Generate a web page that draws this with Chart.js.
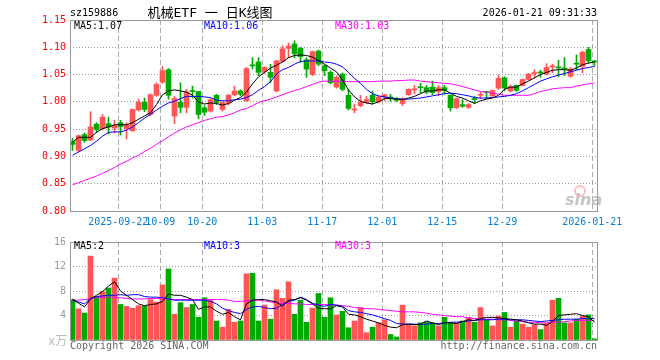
<!DOCTYPE html>
<html>
<head>
<meta charset="utf-8" />
<title>机械ETF 日K线图</title>
<script src="https://cdn.jsdelivr.net/npm/chart.js"></script>
<style>
  body { margin: 0; background: #fff; }
  #wrap { position: relative; width: 660px; height: 360px; overflow: hidden;
          font: 10px/12px "DejaVu Sans Mono", "Noto Sans CJK SC", monospace; color: #000; }
  canvas { position: absolute; left: 0; }
  .t { position: absolute; white-space: nowrap; }
</style>
</head>
<body>
<div id="wrap">
  <canvas id="kline" width="660" height="232" style="top:0"></canvas>
  <canvas id="vol" width="660" height="128" style="top:232px"></canvas>

  <div class="t" style="left:70px;top:7px">sz159886</div>
  <div class="t" style="left:210px;top:5px;font-size:13px;line-height:16px;transform:translateX(-50%)">机械ETF 一 日K线图</div>
  <div class="t" style="right:63px;top:7px">2026-01-21 09:31:33</div>

  <div class="t" style="left:74px;top:20px">MA5:1.07</div>
  <div class="t" style="left:204px;top:20px;color:#00f">MA10:1.06</div>
  <div class="t" style="left:335px;top:20px;color:#f0f">MA30:1.03</div>

  <div class="t" style="left:74px;top:240px">MA5:2</div>
  <div class="t" style="left:204px;top:240px;color:#00f">MA10:3</div>
  <div class="t" style="left:335px;top:240px;color:#f0f">MA30:3</div>

  <div class="t" style="left:48px;top:334px;font-size:12px;line-height:14px;color:#bbb">x万</div>
  <div class="t" style="left:70px;top:340px;color:#666">Copyright 2026 SINA.COM</div>
  <div class="t" style="right:63px;top:340px;color:#666">http://finance.sina.com.cn</div>

  <div class="t" style="left:574px;top:185px;width:8px;height:8px;border:2px solid rgba(255,110,110,0.45);border-radius:50%"></div>
  <div class="t" style="left:565px;top:192px;font:italic bold 16px/16px 'DejaVu Sans',sans-serif;color:rgba(150,150,150,0.55)">sina</div>
</div>

<script>
// price candles, oldest first
var openP = [0.927,0.911,0.940,0.930,0.959,0.951,0.960,0.952,0.962,0.951,
  0.947,0.985,0.999,0.977,1.012,1.036,1.059,0.974,0.999,0.990,
  1.020,1.019,0.989,0.983,1.012,0.986,0.998,1.013,1.020,1.002,
  1.067,1.073,1.056,1.054,1.020,1.074,1.098,1.106,1.098,1.077,
  1.050,1.093,1.066,1.054,1.027,1.051,1.012,0.985,0.993,0.999,
  1.012,1.000,1.009,1.009,1.005,0.997,1.013,1.022,1.027,1.026,
  1.027,1.019,1.026,1.012,0.989,0.995,0.990,1.006,1.012,1.018,
  1.011,1.025,1.044,1.020,1.030,1.030,1.041,1.052,1.054,1.051,
  1.064,1.064,1.062,1.047,1.071,1.065,1.096,1.074];
var highP = [0.933,0.939,0.943,0.982,0.962,0.977,0.972,0.966,0.966,0.962,
  0.987,1.005,1.007,1.015,1.035,1.065,1.061,1.010,1.035,1.023,
  1.029,1.019,0.993,1.006,1.014,1.000,1.014,1.029,1.022,1.063,
  1.081,1.081,1.064,1.069,1.076,1.103,1.108,1.112,1.100,1.081,
  1.093,1.095,1.068,1.057,1.048,1.053,1.023,0.996,1.012,1.010,
  1.020,1.011,1.014,1.014,1.008,1.008,1.024,1.030,1.034,1.030,
  1.038,1.030,1.030,1.013,1.007,1.004,0.997,1.010,1.018,1.019,
  1.022,1.049,1.046,1.031,1.031,1.042,1.052,1.059,1.058,1.070,
  1.069,1.076,1.081,1.063,1.086,1.093,1.100,1.076];
var lowP = [0.911,0.909,0.926,0.929,0.944,0.949,0.941,0.943,0.939,0.932,
  0.946,0.983,0.982,0.975,1.010,1.034,1.005,0.960,0.980,0.980,
  1.007,0.969,0.975,0.981,0.995,0.983,0.994,1.011,1.011,1.001,
  1.060,1.048,1.052,1.035,1.018,1.073,1.081,1.081,1.072,1.045,
  1.048,1.066,1.048,1.033,1.025,1.020,0.985,0.980,0.991,0.997,
  0.996,0.998,1.002,1.001,1.000,0.993,1.012,1.015,1.016,1.015,
  1.013,1.011,1.014,0.983,0.988,0.990,0.988,0.998,1.006,1.006,
  1.010,1.023,1.020,1.018,1.019,1.029,1.040,1.044,1.045,1.049,
  1.053,1.046,1.048,1.045,1.059,1.053,1.071,1.066];
var closeP = [0.922,0.938,0.929,0.954,0.949,0.972,0.954,0.957,0.955,0.958,
  0.986,0.999,0.986,1.013,1.032,1.057,1.012,1.006,0.990,1.018,
  1.019,0.977,0.981,1.004,0.999,0.999,1.012,1.020,1.014,1.061,
  1.066,1.054,1.063,1.045,1.075,1.097,1.102,1.088,1.083,1.060,
  1.092,1.069,1.057,1.035,1.045,1.023,0.988,0.987,0.999,1.004,
  1.000,1.009,1.013,1.007,1.003,1.005,1.023,1.024,1.026,1.018,
  1.017,1.026,1.021,0.989,1.006,0.992,0.995,1.004,1.013,1.017,
  1.021,1.043,1.026,1.028,1.021,1.041,1.051,1.054,1.053,1.063,
  1.066,1.062,1.060,1.060,1.069,1.091,1.075,1.073];

// moving average lines as drawn on the picture
var ma5 = [0.926,0.935,0.935,0.935,0.944,0.951,0.954,0.958,0.958,0.958,
  0.962,0.968,0.974,0.980,0.995,1.013,1.020,1.022,1.020,1.018,
  1.012,1.000,0.996,0.998,0.997,0.994,0.997,1.003,1.008,1.018,
  1.033,1.046,1.054,1.062,1.067,1.073,1.081,1.085,1.086,1.085,
  1.082,1.076,1.069,1.062,1.055,1.040,1.022,1.009,1.001,0.998,
  0.996,1.000,1.006,1.006,1.005,1.004,1.007,1.010,1.015,1.020,
  1.020,1.022,1.022,1.016,1.010,1.007,1.002,0.997,1.002,1.005,
  1.007,1.012,1.023,1.027,1.027,1.033,1.038,1.044,1.050,1.054,
  1.058,1.059,1.059,1.058,1.062,1.068,1.071,1.073];
var ma10 = [0.902,0.908,0.914,0.920,0.928,0.937,0.944,0.945,0.945,0.948,
  0.954,0.962,0.970,0.977,0.985,0.992,0.998,1.001,1.006,1.010,
  1.010,1.010,1.009,1.008,1.003,1.002,1.002,1.004,1.005,1.008,
  1.013,1.021,1.028,1.037,1.051,1.059,1.063,1.069,1.074,1.075,
  1.075,1.075,1.073,1.072,1.069,1.064,1.054,1.043,1.034,1.023,
  1.015,1.011,1.009,1.007,1.006,1.005,1.005,1.006,1.007,1.009,
  1.011,1.013,1.015,1.016,1.015,1.013,1.011,1.008,1.007,1.007,
  1.008,1.009,1.010,1.012,1.015,1.020,1.026,1.032,1.038,1.042,
  1.046,1.049,1.052,1.055,1.058,1.061,1.063,1.065];
var ma30 = [0.848,0.852,0.856,0.860,0.864,0.869,0.874,0.880,0.886,0.891,
  0.897,0.902,0.909,0.915,0.922,0.929,0.936,0.943,0.949,0.954,
  0.958,0.962,0.966,0.969,0.972,0.973,0.976,0.980,0.985,0.988,
  0.993,0.999,1.002,1.005,1.009,1.013,1.017,1.021,1.024,1.028,
  1.032,1.036,1.038,1.038,1.038,1.038,1.037,1.037,1.037,1.037,
  1.037,1.038,1.038,1.038,1.039,1.039,1.040,1.040,1.038,1.037,
  1.036,1.035,1.034,1.033,1.031,1.028,1.025,1.022,1.019,1.018,
  1.016,1.014,1.012,1.012,1.012,1.012,1.012,1.015,1.019,1.021,
  1.024,1.025,1.026,1.026,1.029,1.031,1.033,1.035];

// volume, in 万
var volume = [6.6,5.1,4.4,13.7,7.1,7.9,8.5,10.1,5.8,5.5,
  5.2,5.6,5.5,6.6,6.2,9.0,11.6,4.2,6.1,5.3,
  5.8,3.7,6.9,6.5,3.1,2.1,5.0,2.9,3.1,10.8,
  10.9,3.1,5.7,3.4,8.2,6.8,9.5,4.2,6.5,2.9,
  5.2,7.6,3.7,6.9,4.1,4.7,2.0,3.1,5.3,1.2,
  2.1,2.8,3.3,0.9,0.5,5.7,2.5,2.3,2.8,2.9,
  2.8,2.3,3.7,2.8,2.7,3.1,3.7,2.9,5.3,3.3,
  2.3,3.9,4.5,2.1,3.1,2.6,2.1,2.5,1.7,2.7,
  6.5,6.8,2.8,2.8,3.4,3.9,4.1,0.2];
var volMa5 = [6.7,6.0,5.4,6.7,7.3,7.9,8.8,9.5,8.0,7.3,
  6.6,5.9,5.6,5.8,5.9,6.3,7.5,7.3,7.3,7.0,
  6.6,5.0,5.4,5.4,4.7,4.2,4.5,3.8,3.3,5.9,
  6.5,6.6,6.6,6.4,6.2,5.5,6.5,6.6,6.9,6.5,
  5.9,5.2,5.1,5.1,5.6,5.4,4.2,4.1,3.8,3.4,
  3.1,2.8,2.4,2.1,2.0,2.5,2.6,2.5,2.6,3.1,
  2.8,2.5,2.8,2.8,2.7,3.0,3.3,3.2,3.5,3.7,
  3.7,3.6,3.5,3.4,3.3,3.1,2.8,2.6,2.6,2.4,
  3.0,4.0,4.1,4.2,4.3,4.0,3.8,2.9];
var volMa10 = [6.5,6.2,5.9,6.8,7.1,7.2,7.3,7.3,7.4,7.3,
  7.4,7.4,7.1,7.0,7.0,6.9,6.7,6.5,6.5,6.5,
  6.5,6.5,6.5,6.3,5.9,5.2,4.8,4.5,4.3,5.0,
  5.4,5.5,5.3,5.1,5.2,5.8,6.3,6.5,7.0,6.6,
  6.0,5.7,5.5,5.8,5.7,5.5,4.8,4.6,4.5,4.3,
  4.1,3.8,3.5,3.2,2.7,2.6,2.6,2.6,2.5,2.6,
  2.7,2.7,2.8,2.9,2.9,3.0,3.1,3.2,3.3,3.3,
  3.3,3.4,3.4,3.3,3.3,3.3,3.2,3.1,3.0,3.1,
  3.2,3.3,3.4,3.4,3.4,3.5,3.5,3.5];
var volMa30 = [6.5,6.5,6.6,6.7,6.9,7.0,7.0,7.0,6.9,6.8,
  6.7,6.7,6.7,6.8,6.8,6.7,6.7,6.6,6.6,6.6,
  6.6,6.6,6.6,6.6,6.6,6.6,6.5,6.3,6.3,6.4,
  6.5,6.5,6.4,6.2,6.1,6.0,6.0,5.9,5.9,5.8,
  5.8,5.8,5.8,5.7,5.7,5.6,5.5,5.3,5.2,5.1,
  5.1,5.0,4.9,4.8,4.7,4.6,4.6,4.6,4.5,4.4,
  4.2,4.1,4.0,3.9,3.8,3.8,3.6,3.5,3.5,3.4,
  3.4,3.3,3.3,3.2,3.1,3.0,2.9,2.9,2.8,2.8,
  2.9,2.9,3.0,3.1,3.2,3.2,3.2,3.2];

// date ticks: candle index and label
var tickIdx = [8, 15, 22, 32, 42, 52, 62, 72, 87];
var tickLabels = ['2025-09-22', '10-09', '10-20', '11-03', '11-17', '12-01', '12-15', '12-29', '2026-01-21'];
var priceTicks = [0.80, 0.85, 0.90, 0.95, 1.00, 1.05, 1.10, 1.15];
var volTicks = [0, 4, 8, 12, 16];

// ---------------------------------------------
var UP = '#ff5555', DOWN = '#00aa00';
var GRID_SHIFT = 0.37;   // sina puts the date line a little left of the candle
Chart.defaults.font.family = '"DejaVu Sans Mono", monospace';
Chart.defaults.font.size = 10;
Chart.defaults.animation = false;

var colors = closeP.map(function (c, i) { return c >= openP[i] ? UP : DOWN; });
function pts(arr) { return arr.map(function (v, i) { return { x: i, y: v }; }); }

var frame = {
  id: 'frame',
  afterDatasetsDraw: function (chart) {
    var a = chart.chartArea, ctx = chart.ctx;
    ctx.save();
    ctx.strokeStyle = '#999';
    ctx.lineWidth = 1;
    ctx.strokeRect(a.left + 0.5, a.top + 0.5, a.right - a.left, a.bottom - a.top);
    ctx.restore();
  }
};

function xAxis(labels) {
  return {
    type: 'linear', min: -0.4167, max: 87.4167, offset: false,
    afterBuildTicks: function (s) { s.ticks = tickIdx.map(function (v) { return { value: v - GRID_SHIFT }; }); },
    ticks: { display: labels, autoSkip: false, maxRotation: 0, padding: 5, color: '#0a80d0',
             callback: function (v, i) { return tickLabels[i]; } },
    grid: { offset: false, color: '#aaa', drawTicks: false },
    border: { display: false, dash: [5, 3] },
    afterFit: function (s) { s.height = labels ? 21 : 0; }
  };
}

// non-grouped bars take the slot width, so the thickness is capped instead
function bars(data, width) {
  return { data: data, backgroundColor: colors, grouped: false, order: 2,
           barPercentage: 1, categoryPercentage: 1, maxBarThickness: width, minBarLength: 1 };
}

function line(data, color) {
  return { type: 'line', data: pts(data), borderColor: color, borderWidth: 1,
           pointRadius: 0, tension: 0, order: 1 };
}

new Chart(document.getElementById('kline'), {
  type: 'bar',
  data: {
    datasets: [
      bars(lowP.map(function (l, i) { return { x: i, y: [l, highP[i]] }; }), 1),
      bars(openP.map(function (o, i) { return { x: i, y: [o, closeP[i]] }; }), 5),
      line(ma5, '#000'),
      line(ma10, '#00f'),
      line(ma30, '#f0f')
    ]
  },
  options: {
    responsive: false,
    layout: { padding: { left: 0, right: 63, top: 20, bottom: 0 } },
    plugins: { legend: { display: false }, tooltip: { enabled: false } },
    scales: {
      x: xAxis(true),
      y: {
        type: 'linear', min: 0.80, max: 1.15,
        afterBuildTicks: function (s) { s.ticks = priceTicks.map(function (v) { return { value: v }; }); },
        ticks: { color: '#f00', padding: 4, callback: function (v) { return v.toFixed(2); } },
        grid: { color: '#999', drawTicks: false },
        border: { display: false, dash: [1, 2] },
        afterFit: function (s) { s.width = 70; }
      }
    }
  },
  plugins: [frame]
});

new Chart(document.getElementById('vol'), {
  type: 'bar',
  data: {
    datasets: [
      bars(pts(volume), 5),
      line(volMa5, '#000'),
      line(volMa10, '#00f'),
      line(volMa30, '#f0f')
    ]
  },
  options: {
    responsive: false,
    layout: { padding: { left: 0, right: 63, top: 8, bottom: 20 } },
    plugins: { legend: { display: false }, tooltip: { enabled: false } },
    scales: {
      x: xAxis(false),
      y: {
        type: 'linear', min: 0, max: 16,
        afterBuildTicks: function (s) { s.ticks = volTicks.map(function (v) { return { value: v }; }); },
        ticks: { color: '#999', padding: 4, callback: function (v) { return v === 0 ? '' : String(v); } },
        grid: { color: '#999', drawTicks: false },
        border: { display: false, dash: [1, 2] },
        afterFit: function (s) { s.width = 70; }
      }
    }
  },
  plugins: [frame]
});
</script>
</body>
</html>
